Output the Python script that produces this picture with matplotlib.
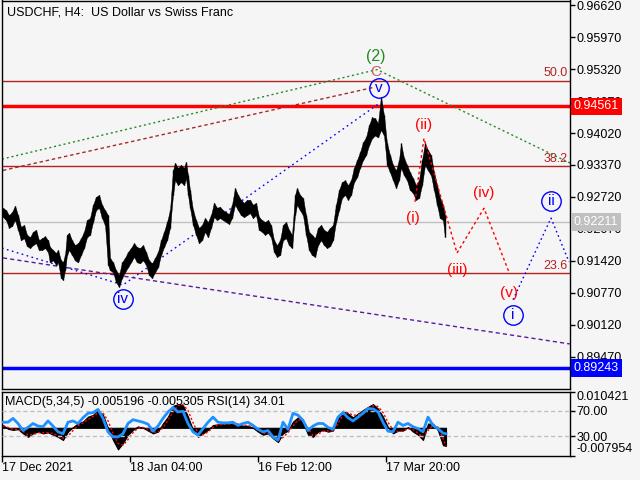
import matplotlib
matplotlib.use('Agg')
import matplotlib.pyplot as plt
from matplotlib.transforms import blended_transform_factory

plt.rcParams['font.family'] = ['Liberation Sans', 'DejaVu Sans']

# ---------------- data ----------------
bar_idx = [1, 4, 7, 10, 13, 16, 19, 22, 25, 28,
           31, 34, 37, 40, 43, 46, 48, 51, 54, 56,
           59, 61, 63, 65, 67, 70, 73, 76, 79, 82,
           85, 88, 91, 94, 97, 100, 103, 106, 108, 111,
           114, 117, 120, 123, 126, 129, 132, 135, 138, 141,
           144, 147, 150, 153, 156, 159, 162, 165, 168, 171,
           173, 176, 179, 182, 184, 186, 188, 191, 194, 197,
           200, 203, 206, 209, 212, 215, 218, 221, 224, 227,
           230, 233, 236, 239, 242, 245, 248, 251, 254, 257,
           260, 263, 266, 269, 272, 275, 278, 281, 284, 287,
           290, 293, 295, 298, 301, 304, 307, 310, 313, 316,
           319, 322, 325, 328, 331, 334, 337, 340, 343, 346,
           349, 352, 355, 358, 361, 364, 367, 370, 373, 376,
           379, 382, 385, 388, 391, 394, 397, 399, 402, 405,
           408, 411, 414, 417, 420, 423, 426, 429, 432, 435,
           438, 441, 443]
bar_high = [0.9250, 0.9245, 0.9235, 0.9241, 0.9254, 0.9235, 0.9211, 0.9215, 0.9195, 0.9190,
            0.9201, 0.9205, 0.9184, 0.9188, 0.9192, 0.9184, 0.9170, 0.9164, 0.9158, 0.9164,
            0.9143, 0.9139, 0.9154, 0.9195, 0.9199, 0.9184, 0.9174, 0.9178, 0.9188, 0.9201,
            0.9225, 0.9229, 0.9256, 0.9272, 0.9276, 0.9256, 0.9245, 0.9235, 0.9148, 0.9139,
            0.9123, 0.9113, 0.9139, 0.9148, 0.9160, 0.9168, 0.9178, 0.9170, 0.9168, 0.9174,
            0.9160, 0.9143, 0.9137, 0.9148, 0.9160, 0.9184, 0.9201, 0.9221, 0.9245, 0.9326,
            0.9341, 0.9331, 0.9337, 0.9331, 0.9343, 0.9316, 0.9286, 0.9245, 0.9225, 0.9209,
            0.9215, 0.9229, 0.9221, 0.9235, 0.9260, 0.9250, 0.9252, 0.9245, 0.9241, 0.9237,
            0.9256, 0.9290, 0.9276, 0.9266, 0.9260, 0.9266, 0.9266, 0.9256, 0.9260, 0.9231,
            0.9225, 0.9221, 0.9225, 0.9215, 0.9184, 0.9174, 0.9184, 0.9215, 0.9221, 0.9205,
            0.9195, 0.9276, 0.9290, 0.9276, 0.9270, 0.9235, 0.9201, 0.9195, 0.9188, 0.9209,
            0.9215, 0.9205, 0.9201, 0.9209, 0.9215, 0.9256, 0.9286, 0.9302, 0.9306, 0.9296,
            0.9306, 0.9331, 0.9347, 0.9363, 0.9383, 0.9393, 0.9418, 0.9434, 0.9432, 0.9422,
            0.9475, 0.9438, 0.9381, 0.9357, 0.9337, 0.9326, 0.9347, 0.9381, 0.9351, 0.9337,
            0.9322, 0.9310, 0.9296, 0.9306, 0.9347, 0.9381, 0.9367, 0.9357, 0.9322, 0.9296,
            0.9270, 0.9256, 0.9235]
bar_low = [0.9231, 0.9225, 0.9209, 0.9213, 0.9225, 0.9205, 0.9184, 0.9188, 0.9172, 0.9168,
           0.9174, 0.9178, 0.9164, 0.9164, 0.9168, 0.9160, 0.9139, 0.9143, 0.9134, 0.9139,
           0.9107, 0.9103, 0.9123, 0.9154, 0.9164, 0.9154, 0.9143, 0.9139, 0.9154, 0.9168,
           0.9190, 0.9195, 0.9221, 0.9245, 0.9250, 0.9229, 0.9215, 0.9134, 0.9123, 0.9119,
           0.9099, 0.9089, 0.9107, 0.9119, 0.9129, 0.9139, 0.9150, 0.9139, 0.9137, 0.9143,
           0.9134, 0.9113, 0.9107, 0.9119, 0.9129, 0.9154, 0.9170, 0.9184, 0.9209, 0.9276,
           0.9306, 0.9296, 0.9302, 0.9296, 0.9310, 0.9276, 0.9250, 0.9215, 0.9195, 0.9178,
           0.9184, 0.9201, 0.9190, 0.9209, 0.9231, 0.9225, 0.9229, 0.9225, 0.9221, 0.9217,
           0.9229, 0.9256, 0.9245, 0.9235, 0.9231, 0.9235, 0.9239, 0.9229, 0.9235, 0.9205,
           0.9201, 0.9195, 0.9199, 0.9190, 0.9160, 0.9150, 0.9154, 0.9184, 0.9188, 0.9174,
           0.9168, 0.9235, 0.9256, 0.9245, 0.9235, 0.9195, 0.9164, 0.9154, 0.9150, 0.9174,
           0.9184, 0.9174, 0.9168, 0.9172, 0.9184, 0.9221, 0.9245, 0.9270, 0.9276, 0.9266,
           0.9276, 0.9302, 0.9312, 0.9331, 0.9347, 0.9357, 0.9377, 0.9391, 0.9397, 0.9393,
           0.9408, 0.9397, 0.9337, 0.9322, 0.9306, 0.9290, 0.9306, 0.9331, 0.9316, 0.9306,
           0.9286, 0.9280, 0.9266, 0.9270, 0.9296, 0.9337, 0.9326, 0.9316, 0.9286, 0.9256,
           0.9229, 0.9225, 0.9190]

ind_idx = [1, 6, 11, 16, 21, 26, 31, 36, 41, 46,
           51, 56, 61, 66, 71, 76, 81, 86, 91, 96,
           101, 106, 111, 116, 121, 126, 131, 136, 141, 146,
           151, 156, 161, 166, 171, 176, 181, 186, 191, 196,
           201, 206, 211, 216, 221, 226, 231, 236, 241, 246,
           251, 256, 261, 266, 271, 276, 281, 286, 291, 296,
           301, 306, 311, 316, 321, 326, 331, 336, 341, 346,
           351, 356, 361, 366, 371, 376, 381, 386, 391, 396,
           401, 406, 411, 416, 421, 426, 431, 436, 441, 444]
macd_main = [0.0008, -0.0003, -0.0006, -0.0004, -0.0016, -0.0026, -0.0016, -0.0011, -0.0016, -0.0013,
             -0.0020, -0.0026, -0.0035, -0.0011, 0.0002, 0.0013, 0.0018, 0.0032, 0.0037, 0.0051,
             0.0037, -0.0001, -0.0035, -0.0062, -0.0044, -0.0020, -0.0006, 0.0004, 0.0000, -0.0008,
             -0.0016, -0.0011, 0.0013, 0.0032, 0.0063, 0.0068, 0.0065, 0.0032, -0.0006, -0.0026,
             -0.0016, -0.0006, 0.0008, 0.0010, 0.0010, 0.0012, 0.0012, 0.0010, 0.0006, 0.0006,
             0.0000, -0.0011, -0.0020, -0.0016, -0.0030, -0.0041, -0.0016, -0.0008, 0.0018, 0.0030,
             0.0015, -0.0020, -0.0026, -0.0011, -0.0006, -0.0011, -0.0008, 0.0032, 0.0049, 0.0041,
             0.0030, 0.0041, 0.0051, 0.0060, 0.0068, 0.0055, 0.0032, 0.0002, -0.0016, -0.0008,
             -0.0008, 0.0002, -0.0011, -0.0020, -0.0035, 0.0012, 0.0012, -0.0008, -0.0050, -0.0052]
macd_signal = [0.0006, 0.0001, -0.0004, -0.0005, -0.0010, -0.0020, -0.0020, -0.0014, -0.0014, -0.0014,
               -0.0016, -0.0022, -0.0030, -0.0024, -0.0008, 0.0006, 0.0014, 0.0024, 0.0033, 0.0043,
               0.0043, 0.0020, -0.0015, -0.0045, -0.0050, -0.0034, -0.0014, -0.0001, 0.0001, -0.0004,
               -0.0012, -0.0013, 0.0000, 0.0022, 0.0046, 0.0064, 0.0066, 0.0050, 0.0015, -0.0015,
               -0.0020, -0.0012, 0.0001, 0.0008, 0.0010, 0.0011, 0.0012, 0.0011, 0.0008, 0.0006,
               0.0003, -0.0005, -0.0015, -0.0017, -0.0024, -0.0035, -0.0028, -0.0014, 0.0005, 0.0023,
               0.0022, -0.0002, -0.0022, -0.0018, -0.0010, -0.0009, -0.0009, 0.0012, 0.0038, 0.0044,
               0.0036, 0.0037, 0.0045, 0.0055, 0.0063, 0.0061, 0.0044, 0.0016, -0.0006, -0.0011,
               -0.0009, -0.0003, -0.0005, -0.0015, -0.0027, -0.0008, 0.0008, 0.0002, -0.0030, -0.0053]
rsi = [52, 52, 58, 50, 39, 44, 50, 46, 45, 54,
       46, 37, 34, 52, 54, 50, 59, 66, 67, 72,
       58, 37, 29, 29, 34, 50, 56, 54, 52, 49,
       38, 46, 58, 68, 75, 68, 69, 50, 37, 32,
       42, 52, 60, 52, 51, 51, 52, 47, 50, 52,
       47, 41, 37, 39, 29, 24, 52, 41, 66, 63,
       55, 39, 46, 50, 50, 44, 41, 60, 67, 59,
       54, 60, 66, 73, 73, 68, 52, 38, 37, 52,
       47, 50, 45, 42, 37, 60, 47, 42, 35, 34.01]

price_ticks = [0.96620, 0.95970, 0.95320, 0.94670, 0.94020, 0.93370,
               0.92720, 0.92070, 0.91420, 0.90770, 0.90120, 0.89470]
date_ticks = [0, 128, 256, 384]
date_labels = ['17 Dec 2021', '18 Jan 04:00', '16 Feb 12:00', '17 Mar 20:00']
macd_ticks = [0.010421, -0.007954]
rsi_ticks = [70, 30]

fib_levels = [0.95084, 0.93344, 0.91170]
fib_labels = ['50.0', '38.2', '23.6']
resist_level = 0.94561
bid_level = 0.92211
support_level = 0.89243

green_x = [0, 375, 568]
green_y = [0.9349, 0.9531, 0.9341]
brown_x = [1, 372]
brown_y = [0.9326, 0.9495]
blue_x = [0, 121, 377]
blue_y = [0.9168, 0.9093, 0.9462]
purple_x = [1, 568]
purple_y = [0.9148, 0.8973]
proj_red_x = [413, 422, 455, 482, 507]
proj_red_y = [0.9262, 0.9391, 0.9158, 0.9249, 0.9119]
proj_blue_x = [511, 549, 567]
proj_blue_y = [0.9063, 0.9229, 0.9140]

red_lbl = ['(i)', '(ii)', '(iii)', '(iv)', '(v)']
red_lbl_x = [411, 422, 455, 482, 507]
red_lbl_y = [0.9229, 0.9418, 0.9123, 0.9280, 0.9077]
circ_lbl = ['v', 'iv', 'i', 'ii']
circ_lbl_x = [377, 121, 511, 549]
circ_lbl_y = [0.9493, 0.9065, 0.9032, 0.9264]

# ---------------- figure ----------------
BG = '#F5F5F5'
W, H = 640.0, 480.0
fig = plt.figure(figsize=(6.4, 4.8), dpi=100, facecolor=BG)


def rect(x0, y0, x1, y1):
    return [x0 / W, 1 - y1 / H, (x1 - x0) / W, (y1 - y0) / H]


ax = fig.add_axes(rect(2, 0.5, 570, 389))
ax.set_facecolor(BG)
ax.set_xlim(0, 568)
ax.set_ylim(0.88814, 0.96715)
for s in ax.spines.values():
    s.set_color('black')
    s.set_linewidth(1)
ax.yaxis.tick_right()
ax.set_yticks(price_ticks)
ax.set_yticklabels(['%.5f' % v for v in price_ticks])
ax.tick_params(axis='y', direction='out', length=3.5, width=1, labelsize=9, pad=1, colors='black')
ax.tick_params(axis='x', bottom=False, labelbottom=False)

trans = blended_transform_factory(ax.transAxes, ax.transData)

# horizontal levels
for lv, lb in zip(fib_levels, fib_labels):
    ax.axhline(lv, color='#B22222', lw=1, zorder=1)
    ax.text(1 - 2 / 568, lv + 0.0003, lb, transform=trans, ha='right', va='bottom',
            color='#B22222', fontsize=9, zorder=2)
ax.axhline(bid_level, color='#C0C0C0', lw=1, zorder=1)
ax.axhline(resist_level, color='#FF0000', lw=2.5, zorder=1)
ax.axhline(support_level, color='#0000FF', lw=2.5, zorder=1)

# wave guide lines
ax.plot(green_x, green_y, color='#228B22', lw=1, ls=(0, (1.5, 2)), zorder=2)
ax.plot(brown_x, brown_y, color='#A52A2A', lw=1, ls=(0, (2.5, 2)), zorder=2)
ax.plot(blue_x, blue_y, color='#0000FF', lw=1, ls=(0, (1.2, 2.5)), zorder=2)
ax.plot(purple_x, purple_y, color='#5B1A9E', lw=1, ls=(0, (3, 2.2)), zorder=2)

# price bars
ax.fill_between(bar_idx, bar_low, bar_high, color='black', lw=0.3, zorder=3)
ax.vlines(bar_idx, bar_low, bar_high, color='black', lw=1.0, zorder=3)

# projections
ax.plot(proj_red_x, proj_red_y, color='#FF0000', lw=1, ls=(0, (2, 2)), zorder=4)
ax.plot(proj_blue_x, proj_blue_y, color='#0000FF', lw=1, ls=(0, (1.2, 2.2)), zorder=4)

# wave labels
for t, x, y in zip(red_lbl, red_lbl_x, red_lbl_y):
    ax.text(x, y, t, color='#FF0000', fontsize=11, ha='center', va='center', zorder=5)
ax.plot(circ_lbl_x, circ_lbl_y, 'o', ms=14, mfc='none', mec='#0000FF', mew=1, zorder=5)
for t, x, y in zip(circ_lbl, circ_lbl_x, circ_lbl_y):
    ax.text(x, y, t, color='#0000FF', fontsize=11, ha='center', va='center', zorder=5)
ax.text(374, 0.9558, '(2)', color='#228B22', fontsize=11.5, ha='center', va='center', zorder=5)
ax.text(374, 0.9527, 'C', color='#CD5C5C', fontsize=11, ha='center', va='center', zorder=5)

# title
ax.text(5 / 568, 1 - 12 / 388.5, 'USDCHF, H4:  US Dollar vs Swiss Franc', transform=ax.transAxes,
        fontsize=9, va='center', ha='left', color='black', zorder=6)

# right-side price boxes
for lv, fc in [(resist_level, '#FF0000'), (bid_level, '#C0C0C0'), (support_level, '#0000FF')]:
    ax.text(1 + 4 / 568, lv, '%.5f' % lv, transform=trans, color='white', fontsize=9,
            ha='left', va='center', zorder=10, clip_on=False,
            bbox=dict(boxstyle='square,pad=0.22', fc=fc, ec='none'))

# ---------------- indicator panel ----------------
axm = fig.add_axes(rect(2, 391.5, 570, 455.5))
axm.set_facecolor(BG)
axm.set_xlim(0, 568)
axm.set_ylim(-0.007954, 0.010421)
for s in axm.spines.values():
    s.set_color('black')
    s.set_linewidth(1)
axm.fill_between(ind_idx, 0, macd_main, color='black', lw=0.8, zorder=2)
axm.plot(ind_idx, macd_signal, color='#FF0000', lw=1, ls=(0, (1.5, 1.5)), zorder=3)
axm.set_xticks(date_ticks)
axm.set_xticklabels(date_labels)
axm.tick_params(axis='x', direction='out', length=4, width=1, labelsize=9, pad=1)
for lbl in axm.get_xticklabels():
    lbl.set_ha('left')

axr = axm.twinx()
axr.set_ylim(0, 100)
axr.set_xlim(0, 568)
for s in axr.spines.values():
    s.set_visible(False)
axr.axhline(70, color='#C0C0C0', lw=1, ls=(0, (3, 2)), zorder=1)
axr.axhline(30, color='#C0C0C0', lw=1, ls=(0, (3, 2)), zorder=1)
axr.plot(ind_idx, rsi, color='#1E90FF', lw=2, zorder=3)
axr.set_yticks(rsi_ticks)
axr.set_yticklabels(['%.2f' % v for v in rsi_ticks])
axr.tick_params(axis='y', direction='out', length=3.5, width=1, labelsize=9, pad=1)
axr.text(3 / 568, 1 - 10.5 / 64, 'MACD(5,34,5) -0.005196 -0.005305 RSI(14) 34.01',
         transform=axr.transAxes, fontsize=9, va='center', ha='left', zorder=6)

# MACD scale on the right as well (after twinx, which resets it to the left)
axm.yaxis.tick_right()
axm.yaxis.set_label_position('right')
axm.set_yticks(macd_ticks)
axm.set_yticklabels(['%.6f' % v for v in macd_ticks])
axm.tick_params(axis='y', which='both', left=False, labelleft=False, right=True, labelright=True,
                direction='out', length=3.5, width=1, labelsize=9, pad=1)
tl = axm.get_yticklabels()
tl[0].set_va('top')
tl[1].set_va('bottom')

fig.savefig('out.png', dpi=100, facecolor=BG)
